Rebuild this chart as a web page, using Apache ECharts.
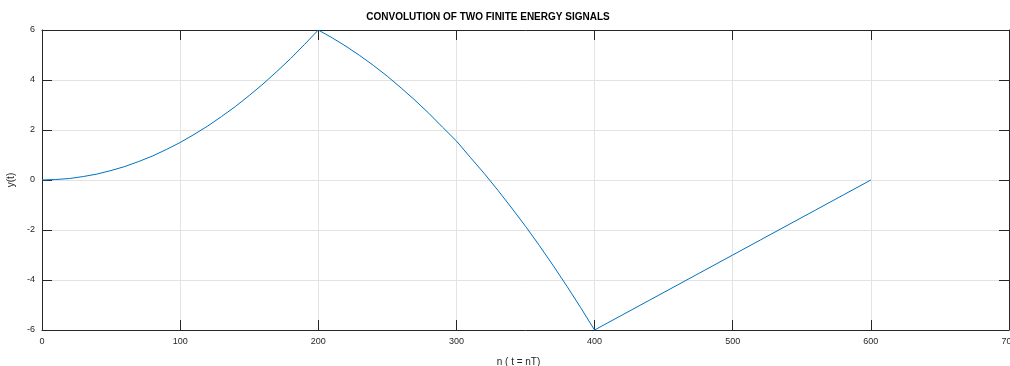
<!DOCTYPE html>
<html>
<head>
<meta charset="utf-8">
<script src="https://cdn.jsdelivr.net/npm/echarts@6/dist/echarts.min.js"></script>
<style>
html,body{margin:0;padding:0;background:#fff;}
#chart{width:1010px;height:366px;}
</style>
</head>
<body>
<div id="chart"></div>
<script>
// sample positions n
var nValues = [0,10,20,30,40,50,60,70,80,90,100,110,120,130,140,150,160,170,180,190,200,
  210,220,230,240,250,260,270,280,290,300,310,320,330,340,350,360,370,380,390,400,
  420,440,460,480,500,520,540,560,580,600];
// y(t) values
var yValues = [0,0.02,0.06,0.14,0.24,0.38,0.54,0.74,0.96,1.22,1.5,1.82,2.16,2.54,2.94,3.38,3.84,4.34,4.86,5.42,6,
  5.69,5.35,4.98,4.58,4.15,3.68,3.19,2.67,2.11,1.56,0.91,0.27,-0.41,-1.12,-1.85,-2.62,-3.42,-4.25,-5.11,-6,
  -5.4,-4.8,-4.2,-3.6,-3.0,-2.4,-1.8,-1.2,-0.6,0];
var xTicks = [0,100,200,300,400,500,600,700];
var yTicks = [-6,-4,-2,0,2,4,6];
var titleText = 'CONVOLUTION OF TWO FINITE ENERGY SIGNALS';
var xName = 'n ( t = nT)';
var yName = 'y(t)';

var seriesData = nValues.map(function(n,i){return [n, yValues[i]];});
var font = 'Liberation Sans, Arial, Helvetica, sans-serif';
var axisColor = '#262626';
var gridColor = '#e3e3e3';

var chart = echarts.init(document.getElementById('chart'), null, {renderer:'canvas'});
chart.setOption({
  animation:false,
  backgroundColor:'#fff',
  title:{
    text:titleText, left:483, top:7, textAlign:'center',
    textStyle:{fontFamily:font, fontSize:10, fontWeight:'bold', color:'#000'}
  },
  grid:{left:42, right:1, top:30, bottom:36, containLabel:false, outerBoundsMode:'none'},
  xAxis:[{
    type:'value', min:xTicks[0], max:xTicks[xTicks.length-1], interval:100,
    name:xName, nameLocation:'middle', nameGap:27,
    nameTextStyle:{fontFamily:font, fontSize:10, color:axisColor, padding:[0,14,0,0]},
    axisLine:{show:true, onZero:false, lineStyle:{color:axisColor, width:1}},
    axisTick:{show:true, inside:true, length:10, lineStyle:{color:axisColor}},
    axisLabel:{fontFamily:font, fontSize:9, color:axisColor, margin:7, hideOverlap:false},
    splitLine:{show:true, lineStyle:{color:gridColor, width:1}}
  },{
    type:'value', position:'top', min:xTicks[0], max:xTicks[xTicks.length-1], interval:100,
    axisLine:{show:true, onZero:false, lineStyle:{color:axisColor, width:1}},
    axisTick:{show:true, inside:true, length:10, lineStyle:{color:axisColor}},
    axisLabel:{show:false}, splitLine:{show:false}
  }],
  yAxis:[{
    type:'value', min:yTicks[0], max:yTicks[yTicks.length-1], interval:2,
    name:yName, nameLocation:'middle', nameGap:22, nameRotate:90,
    nameTextStyle:{fontFamily:font, fontSize:10, color:axisColor},
    axisLine:{show:true, onZero:false, lineStyle:{color:axisColor, width:1}},
    axisTick:{show:true, inside:true, length:10, lineStyle:{color:axisColor}},
    axisLabel:{fontFamily:font, fontSize:9, color:axisColor, margin:7},
    splitLine:{show:true, lineStyle:{color:gridColor, width:1}}
  },{
    type:'value', position:'right', min:yTicks[0], max:yTicks[yTicks.length-1], interval:2,
    axisLine:{show:true, onZero:false, lineStyle:{color:axisColor, width:1}},
    axisTick:{show:true, inside:true, length:10, lineStyle:{color:axisColor}},
    axisLabel:{show:false}, splitLine:{show:false}
  }],
  series:[{
    type:'line', data:seriesData, xAxisIndex:0, yAxisIndex:0,
    showSymbol:false, smooth:false,
    lineStyle:{color:'#0072BD', width:1},
    itemStyle:{color:'#0072BD'}
  }]
});
</script>
</body>
</html>
